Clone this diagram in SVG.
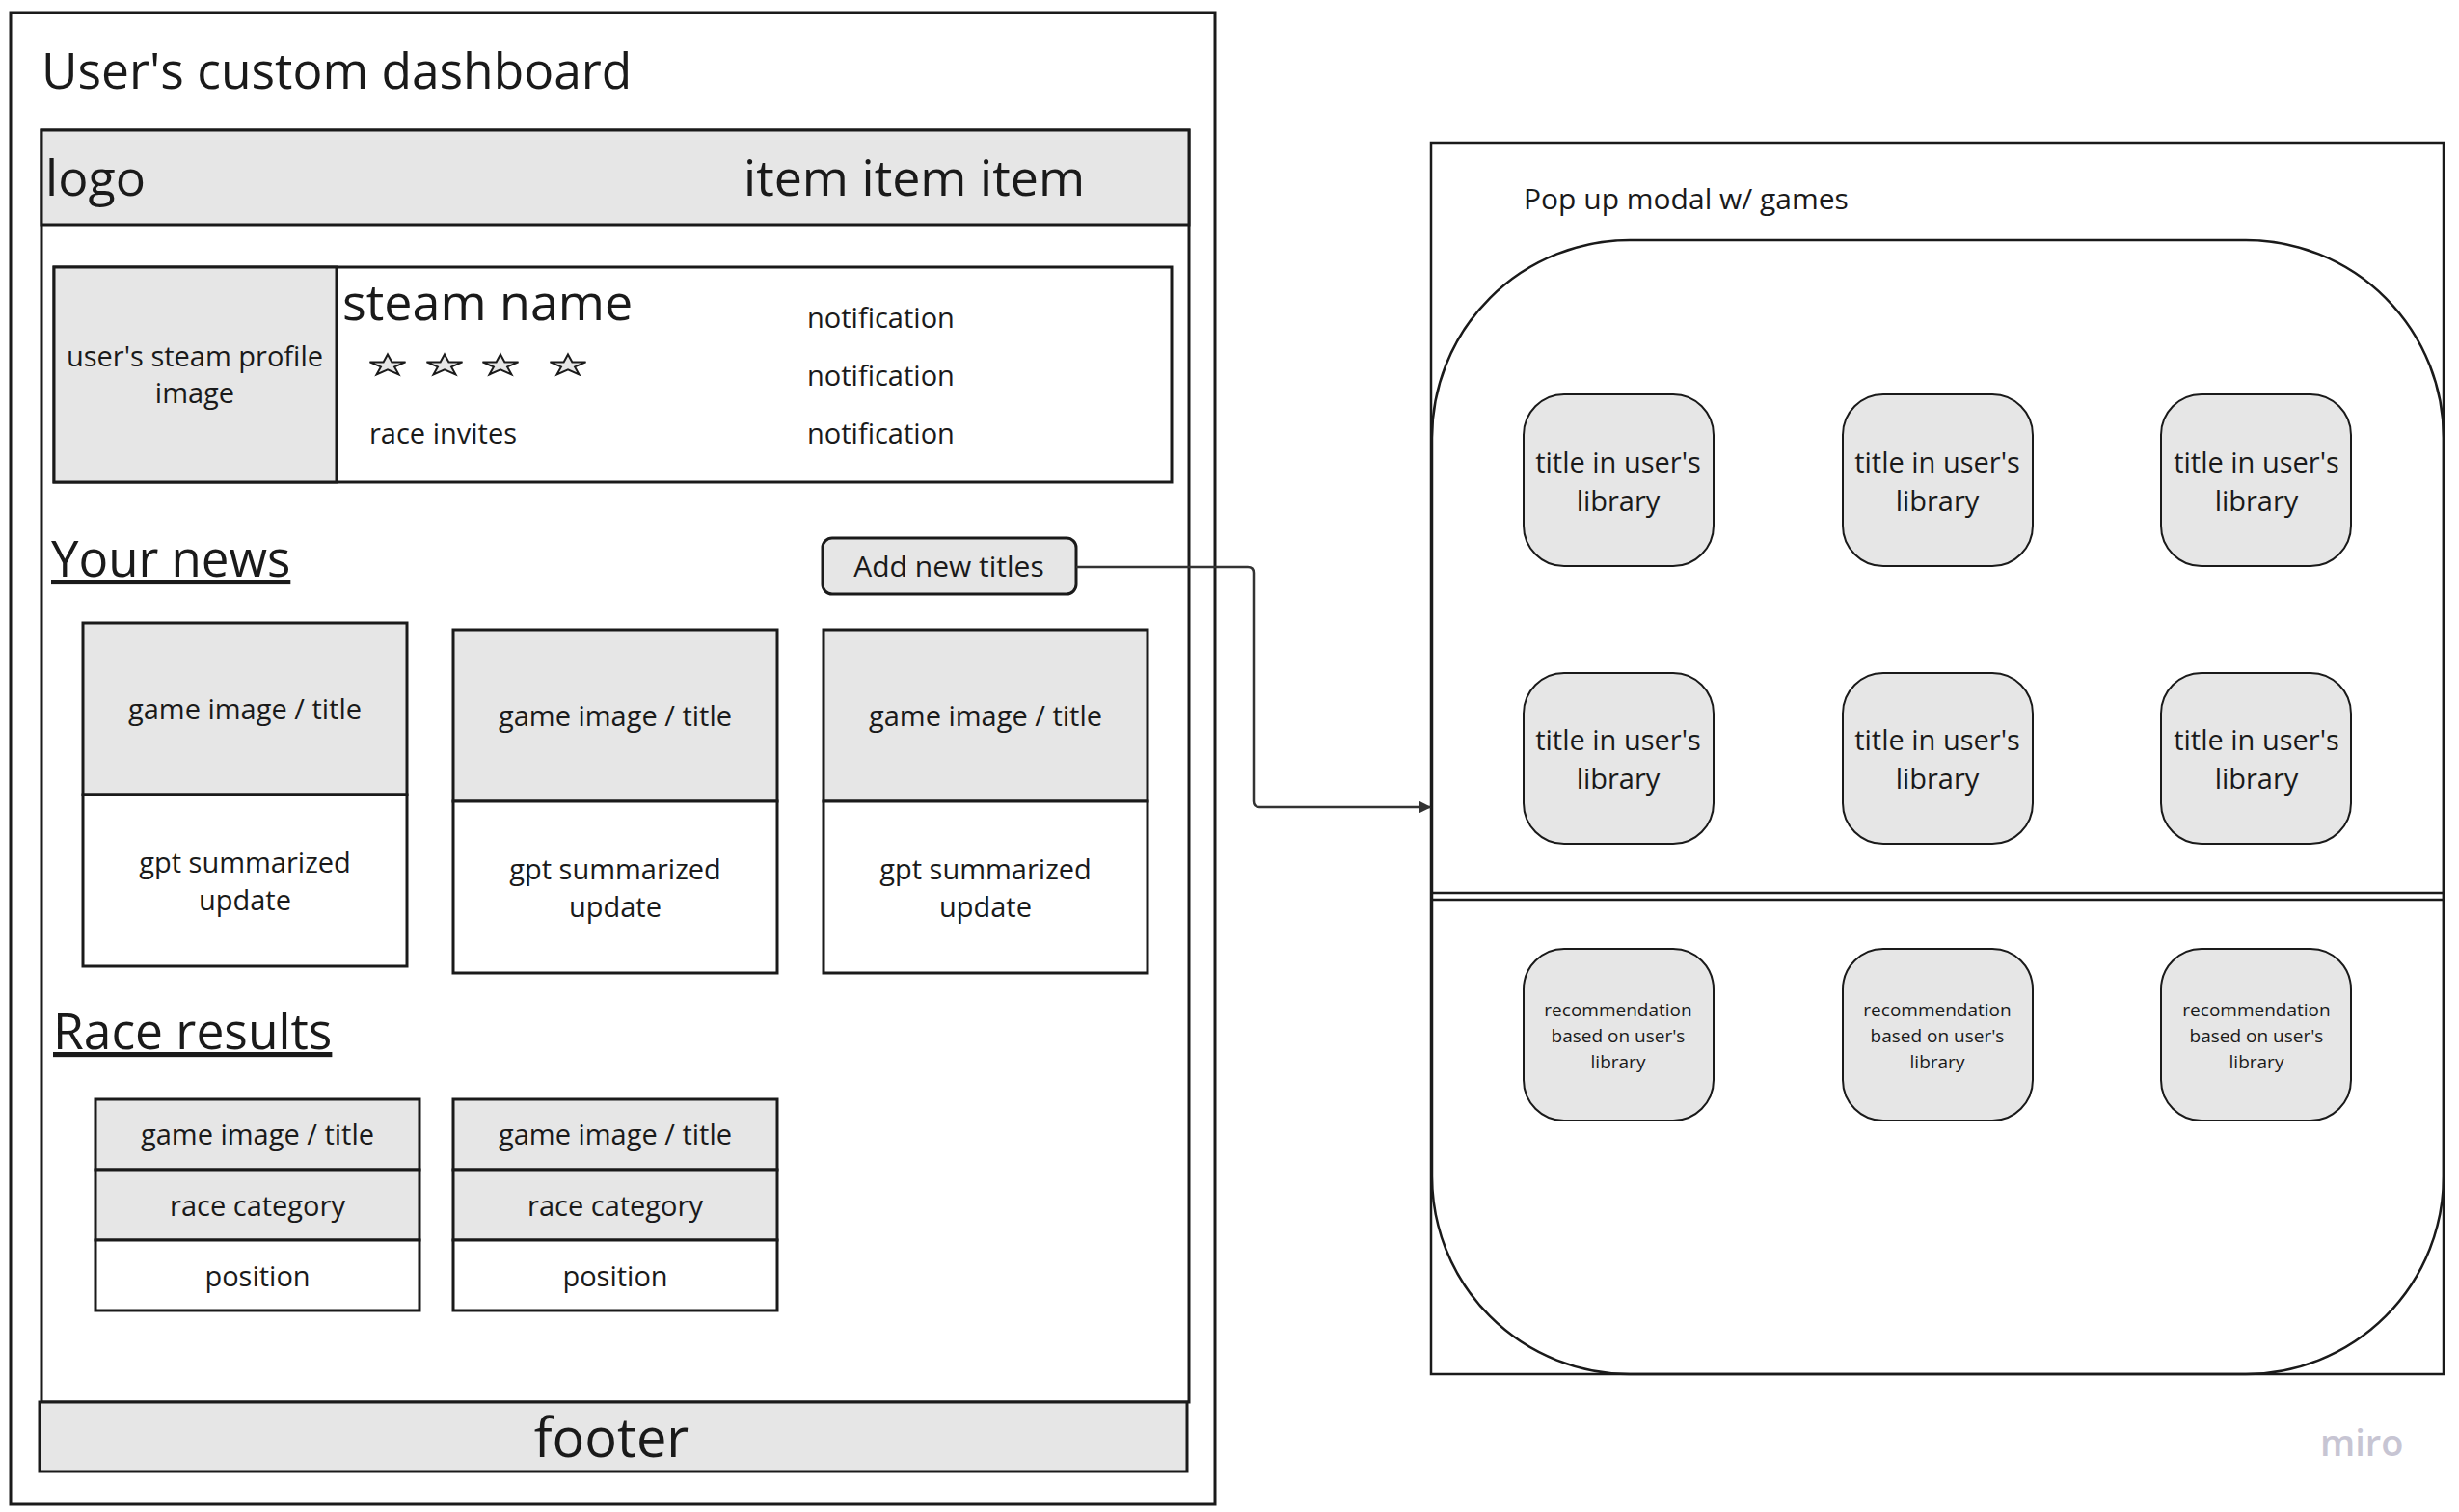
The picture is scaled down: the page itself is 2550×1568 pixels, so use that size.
<svg xmlns="http://www.w3.org/2000/svg" width="2550" height="1568" viewBox="0 0 2550 1568">
<defs>
<style>
text{font-family:"Open Sans","Noto Sans","Liberation Sans",sans-serif;fill:#1a1a1a}
.box{fill:#ffffff;stroke:#1a1a1a;stroke-width:3}
.gray{fill:#e6e6e6;stroke:#1a1a1a;stroke-width:3}
.tile{fill:#e6e6e6;stroke:#1a1a1a;stroke-width:2}
.t29{font-size:29px}
.c{text-anchor:middle}
.conn{fill:none;stroke:#333333;stroke-width:2.5}
</style>
<marker id="arrow" viewBox="0 0 10 10" refX="9" refY="5" markerWidth="5" markerHeight="5" orient="auto" markerUnits="strokeWidth">
<path d="M0,0 L10,5 L0,10 z" fill="#333333"/>
</marker>
<polygon id="star" points="0,-11.6 4.38,-3.58 18.54,-3.58 7.08,1.37 11.47,9.38 0,4.43 -11.47,9.38 -7.08,1.37 -18.54,-3.58 -4.38,-3.58" fill="#e6e6e6" stroke="#1a1a1a" stroke-width="2" stroke-linejoin="miter"/>
</defs>
<rect width="2550" height="1568" fill="#ffffff"/>

<g id="dashboard">
<rect x="11" y="13" width="1249" height="1547" fill="#ffffff" stroke="#1a1a1a" stroke-width="3"/>
<text x="43" y="92" font-size="51.5">User's custom dashboard</text>
<rect id="inner-frame" x="43" y="135" width="1190" height="1319" class="box"/>
</g>

<g id="navbar">
<rect x="43" y="135" width="1190" height="98" class="gray"/>
<text x="47" y="203" font-size="52">logo</text>
<text x="771" y="203" font-size="52">item item item</text>
</g>

<g id="profile-card">
<rect x="56" y="277" width="1159" height="223" class="box"/>
<rect x="56" y="277" width="293" height="223" class="gray"/>
<text class="t29 c" x="202" y="380">user's steam profile</text>
<text class="t29 c" x="202" y="418">image</text>
<text x="355" y="332" font-size="52">steam name</text>
<use href="#star" x="402" y="379"/>
<use href="#star" x="461" y="379"/>
<use href="#star" x="519" y="379"/>
<use href="#star" x="589" y="379"/>
<text class="t29" x="383" y="460">race invites</text>
<text class="t29" x="837" y="340">notification</text>
<text class="t29" x="837" y="400">notification</text>
<text class="t29" x="837" y="460">notification</text>
</g>

<g id="your-news">
<text x="53" y="598" font-size="51" text-decoration="underline">Your news</text>
</g>

<g id="add-new-titles">
<rect x="853" y="558" width="263" height="58" rx="10" class="gray" stroke-width="2.5"/>
<text class="c" x="984" y="598" font-size="30">Add new titles</text>
</g>

<g id="news-card-1">
<rect x="86" y="646" width="336" height="178" class="gray"/>
<rect x="86" y="824" width="336" height="178" class="box"/>
<text class="t29 c" x="254" y="746">game image / title</text>
<text class="t29 c" x="254" y="905">gpt summarized</text>
<text class="t29 c" x="254" y="944">update</text>
</g>
<g id="news-card-2">
<rect x="470" y="653" width="336" height="178" class="gray"/>
<rect x="470" y="831" width="336" height="178" class="box"/>
<text class="t29 c" x="638" y="753">game image / title</text>
<text class="t29 c" x="638" y="912">gpt summarized</text>
<text class="t29 c" x="638" y="951">update</text>
</g>
<g id="news-card-3">
<rect x="854" y="653" width="336" height="178" class="gray"/>
<rect x="854" y="831" width="336" height="178" class="box"/>
<text class="t29 c" x="1022" y="753">game image / title</text>
<text class="t29 c" x="1022" y="912">gpt summarized</text>
<text class="t29 c" x="1022" y="951">update</text>
</g>

<g id="race-results">
<text x="55" y="1088" font-size="51.5" text-decoration="underline">Race results</text>
</g>

<g id="race-card-1">
<rect x="99" y="1140" width="336" height="73" class="gray"/>
<rect x="99" y="1213" width="336" height="73" class="gray"/>
<rect x="99" y="1286" width="336" height="73" class="box"/>
<text class="t29 c" x="267" y="1187">game image / title</text>
<text class="t29 c" x="267" y="1261">race category</text>
<text class="t29 c" x="267" y="1334">position</text>
</g>
<g id="race-card-2">
<rect x="470" y="1140" width="336" height="73" class="gray"/>
<rect x="470" y="1213" width="336" height="73" class="gray"/>
<rect x="470" y="1286" width="336" height="73" class="box"/>
<text class="t29 c" x="638" y="1187">game image / title</text>
<text class="t29 c" x="638" y="1261">race category</text>
<text class="t29 c" x="638" y="1334">position</text>
</g>

<g id="footer">
<rect x="41" y="1454" width="1190" height="72" class="gray"/>
<text class="c" x="634" y="1511" font-size="56">footer</text>
</g>

<g id="modal">
<rect x="1484" y="148" width="1050" height="1277" fill="#ffffff" stroke="#1a1a1a" stroke-width="2.5"/>
<text x="1580" y="217" font-size="30">Pop up modal w/ games</text>
<rect x="1485" y="249" width="1049" height="1176" rx="205" ry="205" fill="none" stroke="#1a1a1a" stroke-width="2.5"/>
<line x1="1484" y1="926" x2="2534" y2="926" stroke="#1a1a1a" stroke-width="2.5"/>
<line x1="1484" y1="933" x2="2534" y2="933" stroke="#1a1a1a" stroke-width="2.5"/>
</g>

<g id="lib-1"><rect x="1580" y="409" width="197" height="178" rx="42" class="tile"/><text class="t29 c" x="1678" y="490">title in user's</text><text class="t29 c" x="1678" y="530">library</text></g>
<g id="lib-2"><rect x="1911" y="409" width="197" height="178" rx="42" class="tile"/><text class="t29 c" x="2009" y="490">title in user's</text><text class="t29 c" x="2009" y="530">library</text></g>
<g id="lib-3"><rect x="2241" y="409" width="197" height="178" rx="42" class="tile"/><text class="t29 c" x="2340" y="490">title in user's</text><text class="t29 c" x="2340" y="530">library</text></g>
<g id="lib-4"><rect x="1580" y="698" width="197" height="177" rx="42" class="tile"/><text class="t29 c" x="1678" y="778">title in user's</text><text class="t29 c" x="1678" y="818">library</text></g>
<g id="lib-5"><rect x="1911" y="698" width="197" height="177" rx="42" class="tile"/><text class="t29 c" x="2009" y="778">title in user's</text><text class="t29 c" x="2009" y="818">library</text></g>
<g id="lib-6"><rect x="2241" y="698" width="197" height="177" rx="42" class="tile"/><text class="t29 c" x="2340" y="778">title in user's</text><text class="t29 c" x="2340" y="818">library</text></g>

<g id="rec-1"><rect x="1580" y="984" width="197" height="178" rx="42" class="tile"/><text class="c" font-size="19" x="1678" y="1054">recommendation</text><text class="c" font-size="19" x="1678" y="1081">based on user's</text><text class="c" font-size="19" x="1678" y="1108">library</text></g>
<g id="rec-2"><rect x="1911" y="984" width="197" height="178" rx="42" class="tile"/><text class="c" font-size="19" x="2009" y="1054">recommendation</text><text class="c" font-size="19" x="2009" y="1081">based on user's</text><text class="c" font-size="19" x="2009" y="1108">library</text></g>
<g id="rec-3"><rect x="2241" y="984" width="197" height="178" rx="42" class="tile"/><text class="c" font-size="19" x="2340" y="1054">recommendation</text><text class="c" font-size="19" x="2340" y="1081">based on user's</text><text class="c" font-size="19" x="2340" y="1108">library</text></g>

<g id="connectors">
<path class="conn" d="M1116,588 H1294 Q1300,588 1300,594 V831 Q1300,837 1306,837 H1483" marker-end="url(#arrow)"/>
</g>

<text x="2406" y="1510" font-size="38" style="fill:#c7c5d3;font-weight:600">miro</text>
</svg>
